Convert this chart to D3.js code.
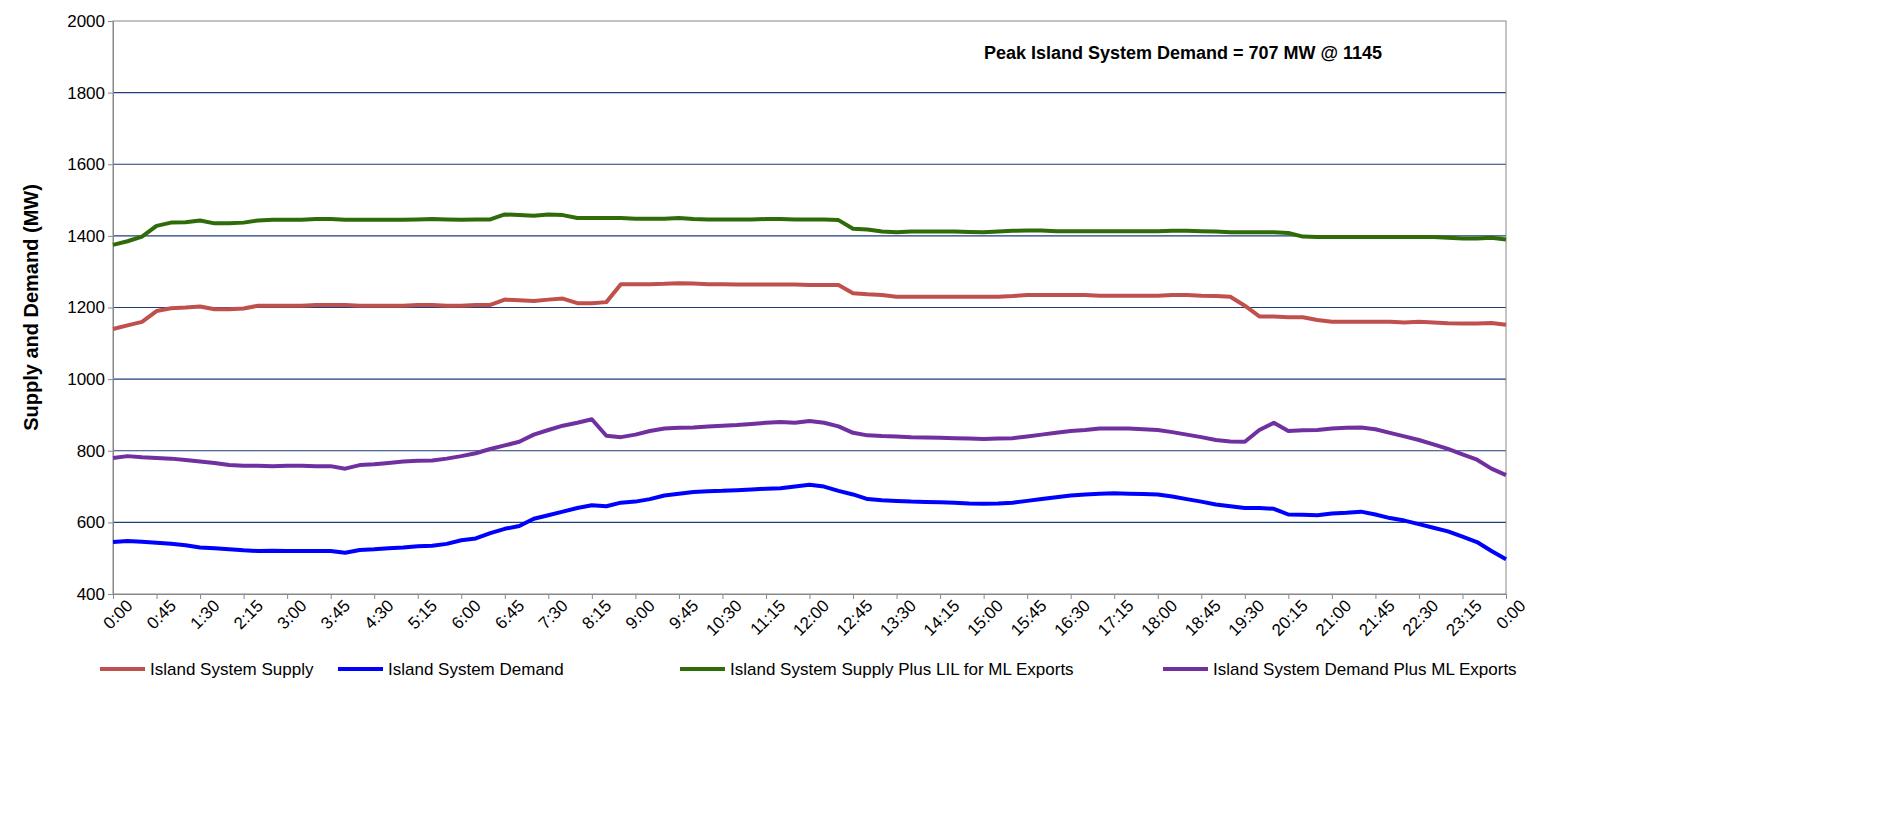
<!DOCTYPE html>
<html>
<head>
<meta charset="utf-8">
<script src="https://cdn.jsdelivr.net/npm/d3@7"></script>
<style>
body { margin: 0; background: #fff; }
text { font-family: "Liberation Sans", Arial, sans-serif; }
</style>
</head>
<body>
<script>
// values every 15 minutes, 0:00 .. 24:00
var supply = [1140,1150,1160,1190, 1198,1200,1203,1195, 1195,1197,1205,1205, 1205,1205,1207,1207,
  1207,1205,1205,1205, 1205,1207,1207,1205, 1205,1207,1207,1222, 1220,1218,1222,1225,
  1212,1212,1215,1265, 1265,1265,1266,1268, 1267,1265,1265,1264, 1264,1264,1264,1264,
  1263,1263,1263,1240, 1237,1235,1230,1230, 1230,1230,1230,1230, 1230,1230,1232,1235,
  1235,1235,1235,1235, 1233,1233,1233,1233, 1233,1235,1235,1233, 1232,1230,1205,1175,
  1175,1173,1173,1165, 1160,1160,1160,1160, 1160,1158,1160,1158, 1156,1155,1155,1157, 1152];
var demand = [545,548,546,543, 540,536,530,528, 525,522,520,521, 520,520,520,520,
  515,523,525,528, 530,533,535,540, 550,555,570,582, 590,610,620,630,
  640,648,645,655, 658,665,675,680, 685,687,688,690, 692,694,695,700,
  705,700,688,678, 665,662,660,658, 657,656,655,653, 652,653,655,660,
  665,670,675,678, 680,681,680,679, 678,672,665,658, 650,645,640,640,
  638,622,621,620, 625,627,630,622, 612,605,595,585, 575,560,545,520, 497];
var supplyLil = [1375,1385,1398,1428, 1437,1438,1443,1435, 1435,1437,1443,1445, 1445,1445,1447,1447,
  1445,1445,1445,1445, 1445,1446,1447,1446, 1445,1446,1446,1460, 1458,1456,1460,1458,
  1450,1450,1450,1450, 1448,1448,1448,1450, 1447,1446,1446,1446, 1446,1447,1447,1446,
  1446,1446,1444,1420, 1418,1412,1410,1412, 1412,1412,1412,1411, 1410,1412,1414,1415,
  1415,1413,1413,1413, 1413,1413,1413,1413, 1413,1414,1414,1413, 1412,1410,1410,1410,
  1410,1408,1398,1397, 1397,1397,1397,1397, 1397,1397,1397,1397, 1395,1393,1393,1395, 1390];
var demandMl = [780,785,782,780, 778,774,770,766, 760,758,758,757, 758,758,757,757,
  750,760,762,766, 770,772,773,778, 785,793,805,815, 825,845,858,870,
  878,888,842,838, 845,855,862,864, 865,868,870,872, 875,878,880,878,
  883,878,868,850, 843,841,840,838, 837,836,835,834, 833,834,835,840,
  845,850,855,858, 862,862,862,860, 858,852,845,838, 830,826,825,858,
  878,855,857,858, 862,864,865,860, 850,840,830,818, 805,790,775,750, 732];

var seriesNames = ["Island System Supply", "Island System Demand",
  "Island System Supply Plus LIL for ML Exports", "Island System Demand Plus ML Exports"];
var seriesColors = ["#c0504d", "#0000ff", "#2f6b08", "#7030a0"];
var yTicks = [400, 600, 800, 1000, 1200, 1400, 1600, 1800, 2000];

// tick labels every 45 minutes
var xTicks = d3.range(0, 24 * 60 + 1, 45);
function fmt(m) {
  m = m % 1440;
  var h = Math.floor(m / 60), mm = m % 60;
  return h + ":" + (mm < 10 ? "0" : "") + mm;
}

var W = 1894, H = 828;
var pLeft = 113, pRight = 1506, pTop = 21, pBottom = 594;

var svg = d3.select("body").append("svg").attr("width", W).attr("height", H);

var x = d3.scaleLinear().domain([0, 1440]).range([pLeft, pRight]);
var y = d3.scaleLinear().domain([400, 2000]).range([pBottom, pTop]);

// grid
svg.append("g").selectAll("line").data(yTicks.slice(1, -1)).enter().append("line")
  .attr("x1", pLeft).attr("x2", pRight)
  .attr("y1", function(d) { return y(d); }).attr("y2", function(d) { return y(d); })
  .attr("stroke", "#1f3d7a").attr("stroke-width", 1.2);

svg.append("rect").attr("x", pLeft).attr("y", pTop)
  .attr("width", pRight - pLeft).attr("height", pBottom - pTop)
  .attr("fill", "none").attr("stroke", "#888").attr("stroke-width", 1);

// y axis
var ya = svg.append("g").attr("transform", "translate(" + pLeft + ",0)")
  .call(d3.axisLeft(y).tickValues(yTicks).tickSize(5).tickFormat(d3.format("d")));
ya.select(".domain").attr("stroke", "#888");
ya.selectAll(".tick line").attr("stroke", "#888");
ya.selectAll("text").attr("font-size", 17).attr("fill", "#000")
  .attr("font-family", "Liberation Sans, Arial, sans-serif");

// x axis
var xa = svg.append("g").attr("transform", "translate(0," + pBottom + ")")
  .call(d3.axisBottom(x).tickValues(xTicks).tickSize(5).tickFormat(fmt));
xa.select(".domain").attr("stroke", "#888");
xa.selectAll(".tick line").attr("stroke", "#888");
xa.selectAll("text").attr("font-size", 17).attr("fill", "#000")
  .attr("font-family", "Liberation Sans, Arial, sans-serif")
  .attr("text-anchor", "end").attr("dx", "0.3em").attr("dy", "0.9em")
  .attr("transform", "rotate(-45)");

// y title
svg.append("text").attr("transform", "translate(38," + ((pTop + pBottom) / 2) + ") rotate(-90)")
  .attr("text-anchor", "middle").attr("font-size", 20).attr("font-weight", "bold")
  .text("Supply and Demand (MW)");

// lines
var allSeries = [supply, demand, supplyLil, demandMl];
var line = d3.line()
  .x(function(d, i) { return x(i * 15); })
  .y(function(d) { return y(d); });
svg.append("g").selectAll("path").data(allSeries).enter().append("path")
  .attr("d", line).attr("fill", "none")
  .attr("stroke", function(d, i) { return seriesColors[i]; })
  .attr("stroke-width", 4).attr("stroke-linejoin", "round");

// annotation
svg.append("text").attr("x", 1183).attr("y", 59).attr("text-anchor", "middle")
  .attr("font-size", 18).attr("font-weight", "bold")
  .text("Peak Island System Demand = 707 MW @ 1145");

// legend
var legX = [100, 338, 680, 1163];
var leg = svg.append("g").selectAll("g").data(seriesNames).enter().append("g")
  .attr("transform", function(d, i) { return "translate(" + legX[i] + ",669)"; });
leg.append("line").attr("x1", 0).attr("x2", 45)
  .attr("stroke", function(d, i) { return seriesColors[i]; }).attr("stroke-width", 4);
leg.append("text").attr("x", 50).attr("dy", "0.35em").attr("font-size", 17)
  .text(function(d) { return d; });
</script>
</body>
</html>
